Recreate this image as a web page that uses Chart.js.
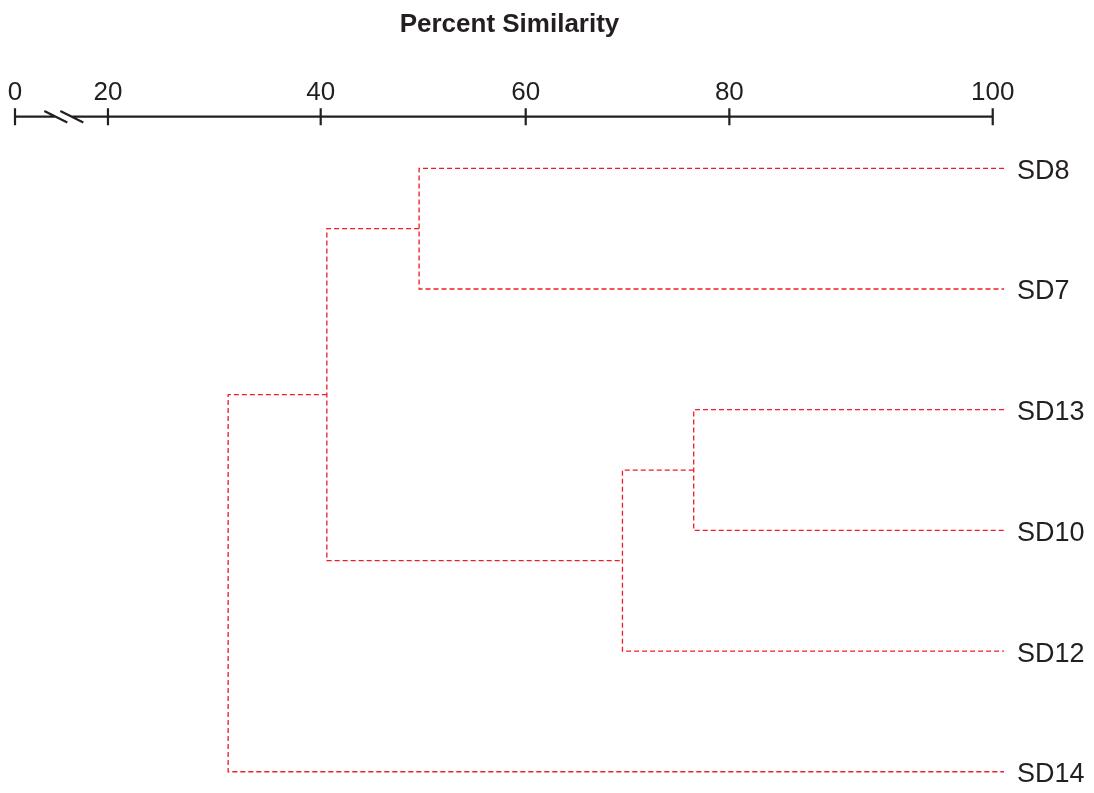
<!DOCTYPE html>
<html>
<head>
<meta charset="utf-8">
<title>Percent Similarity dendrogram</title>
<script src="https://cdn.jsdelivr.net/npm/chart.js@4.4.1/dist/chart.umd.min.js"></script>
<style>
  html, body { margin: 0; padding: 0; background: #ffffff; }
  #wrap { position: relative; width: 1094px; height: 793px; }
</style>
</head>
<body>
<div id="wrap"><canvas id="chart"></canvas></div>
<script>
// Leaves, top to bottom
const LEAF_LABELS = ['SD8', 'SD7', 'SD13', 'SD10', 'SD12', 'SD14'];

// Merge table: node ids 0..5 are leaves, each merge creates the next id (6, 7, ...)
const MERGE_LEFT = [0, 2, 7, 6, 9];
const MERGE_RIGHT = [1, 3, 4, 8, 5];
const MERGE_SIMILARITY = [49.6, 76.5, 69.5, 40.6, 31.3];

// Axis tick values (percent similarity)
const TICK_VALUES = [0, 20, 40, 60, 80, 100];

const INK = '#231f20';
const LINK_COLOR = '#ee1c25';
const FONT_FAMILY = 'Liberation Sans, Arial, Helvetica, sans-serif';

// Axis layout: where each tick value sits across the plot width, the
// axis break between 0 and 20, and the leaf tip at the right edge.
const AXIS_STOPS = [[0, 0], [20, 0.0940], [40, 0.3091], [60, 0.5164], [80, 0.7223], [100, 0.9886], [101, 1]];
const AXIS_BREAK = 10.5;
const LEAF_TIP = 101;

// Piecewise linear scale: linear between consecutive stops
class StretchScale extends Chart.LinearScale {
  static id = 'stretch';
  static defaults = Chart.LinearScale.defaults;
  _stops() { return this.options.stops || [[this.min, 0], [this.max, 1]]; }
  getPixelForValue(value) {
    const st = this._stops();
    let i = 0;
    while (i < st.length - 2 && value > st[i + 1][0]) i++;
    const [v0, f0] = st[i], [v1, f1] = st[i + 1];
    const f = f0 + (value - v0) / (v1 - v0) * (f1 - f0);
    return this.getPixelForDecimal(f);
  }
  getValueForPixel(pixel) {
    const st = this._stops();
    const f = this.getDecimalForPixel(pixel);
    let i = 0;
    while (i < st.length - 2 && f > st[i + 1][1]) i++;
    const [v0, f0] = st[i], [v1, f1] = st[i + 1];
    return v0 + (f - f0) / (f1 - f0) * (v1 - v0);
  }
}
Chart.register(StretchScale);

// Build node positions and the bracket for each merge
const nodeX = LEAF_LABELS.map(() => LEAF_TIP);
const nodeY = LEAF_LABELS.map((_, i) => i);
const linkSets = [];
MERGE_SIMILARITY.forEach((sim, k) => {
  const a = MERGE_LEFT[k], b = MERGE_RIGHT[k];
  linkSets.push({
    data: [
      { x: nodeX[a], y: nodeY[a] },
      { x: sim, y: nodeY[a] },
      { x: sim, y: nodeY[b] },
      { x: nodeX[b], y: nodeY[b] }
    ],
    showLine: true,
    borderColor: LINK_COLOR,
    borderWidth: 1.3,
    borderDash: [5, 3],
    pointRadius: 0,
    fill: false,
    tension: 0,
    clip: false
  });
  nodeX.push(sim);
  nodeY.push((nodeY[a] + nodeY[b]) / 2);
});

// Top axis: baseline, crossing tick marks and the break symbol
const axisLine = {
  id: 'axisLine',
  afterDraw(chart) {
    const s = chart.scales.x;
    const ctx = chart.ctx;
    const y = chart.chartArea.top;
    const x0 = s.getPixelForValue(TICK_VALUES[0]);
    const x1 = s.getPixelForValue(TICK_VALUES[TICK_VALUES.length - 1]);
    const xb = s.getPixelForValue(AXIS_BREAK);
    const gap = 8;
    ctx.save();
    ctx.strokeStyle = INK;
    ctx.lineWidth = 2.2;
    ctx.lineCap = 'butt';
    ctx.beginPath();
    ctx.moveTo(x0, y); ctx.lineTo(xb - gap, y);
    ctx.moveTo(xb + gap, y); ctx.lineTo(x1, y);
    TICK_VALUES.forEach(v => {
      const x = s.getPixelForValue(v);
      ctx.moveTo(x, y - 8.5); ctx.lineTo(x, y + 8.5);
    });
    [-gap, gap].forEach(d => {
      ctx.moveTo(xb + d - 11.5, y - 5.7);
      ctx.lineTo(xb + d + 11.5, y + 5.7);
    });
    ctx.stroke();
    ctx.restore();
  }
};

new Chart(document.getElementById('chart'), {
  type: 'scatter',
  data: { datasets: linkSets },
  options: {
    responsive: true,
    maintainAspectRatio: false,
    animation: false,
    layout: { padding: { left: 15, right: 0, top: 0, bottom: 0 } },
    plugins: { legend: { display: false }, tooltip: { enabled: false } },
    scales: {
      x: {
        type: 'stretch',
        position: 'top',
        min: 0,
        max: LEAF_TIP,
        stops: AXIS_STOPS,
        afterBuildTicks: (scale) => { scale.ticks = TICK_VALUES.map(v => ({ value: v })); },
        afterFit: (scale) => { scale.paddingLeft = 0; scale.paddingRight = 0; },
        grid: { display: false, drawTicks: true, tickLength: 8 },
        border: { display: false },
        ticks: {
          color: INK,
          padding: 0,
          maxRotation: 0,
          autoSkip: false,
          font: { family: FONT_FAMILY, size: 26 },
          callback: (v) => String(v)
        },
        title: {
          display: true,
          text: 'Percent Similarity',
          color: INK,
          font: { family: FONT_FAMILY, size: 26, weight: 'bold' },
          padding: { top: 9, bottom: 37.3 }
        }
      },
      y: {
        type: 'linear',
        position: 'right',
        reverse: true,
        min: -0.4275,
        max: 5.176,
        afterBuildTicks: (scale) => { scale.ticks = LEAF_LABELS.map((_, i) => ({ value: i })); },
        afterFit: (scale) => { scale.paddingTop = 0; scale.paddingBottom = 0; scale.width = 90; },
        grid: { display: false, drawTicks: false },
        border: { display: false },
        ticks: {
          color: INK,
          padding: 13,
          labelOffset: 3,
          autoSkip: false,
          font: { family: FONT_FAMILY, size: 27 },
          callback: (v) => LEAF_LABELS[v] !== undefined ? LEAF_LABELS[v] : ''
        }
      }
    }
  },
  plugins: [axisLine]
});
</script>
</body>
</html>
